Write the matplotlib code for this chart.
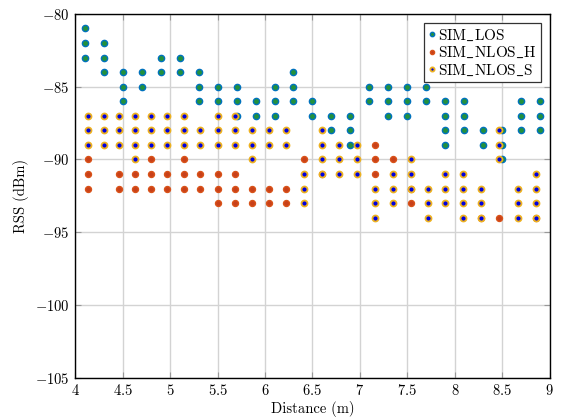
import matplotlib
matplotlib.use("Agg")
import matplotlib.pyplot as plt
from matplotlib.ticker import FuncFormatter, MultipleLocator

plt.rcParams['font.family'] = 'serif'
plt.rcParams['font.serif'] = ['cmr10', 'DejaVu Serif']
plt.rcParams['mathtext.fontset'] = 'cm'
plt.rcParams['axes.unicode_minus'] = False

# LOS measurements: distance -> list of RSS values
los_x = [4.1, 4.3, 4.5, 4.7, 4.9, 5.1, 5.3, 5.5, 5.7, 5.9, 6.1, 6.3, 6.5,
         6.7, 6.9, 7.1, 7.3, 7.5, 7.7, 7.9, 8.1, 8.3, 8.5, 8.7, 8.9]
los_rss = [[-81, -82, -83], [-82, -83, -84], [-84, -85, -86], [-84, -85],
           [-83, -84], [-83, -84], [-84, -85, -86], [-85, -86],
           [-85, -86, -87], [-86, -87], [-85, -86, -87], [-84, -85, -86],
           [-86, -87], [-87, -88], [-87, -88, -89], [-85, -86],
           [-85, -86, -87], [-85, -86, -87], [-85, -86],
           [-86, -87, -88, -89], [-86, -87, -88], [-88, -89],
           [-88, -89, -90], [-86, -87, -88], [-86, -87, -88]]

# NLOS distances (shared by both NLOS series)
nlos_x = [4.13, 4.30, 4.46, 4.63, 4.80, 4.97, 5.15, 5.32, 5.50, 5.68, 5.86,
          6.04, 6.22, 6.41, 6.60, 6.78, 6.97, 7.16, 7.35, 7.54, 7.72, 7.90,
          8.09, 8.28, 8.47, 8.66, 8.85]
nlos_h_rss = [[-90, -91, -92], [], [-91, -92], [-91, -92], [-90, -91, -92],
              [-91, -92], [-90, -91, -92], [-91, -92], [-91, -92, -93],
              [-91, -92, -93], [-92, -93], [-92, -93], [-92, -93], [-90],
              [-91], [], [], [-89, -90, -91], [-90], [-92, -93], [], [],
              [], [-94], [-94], [], [-94]]
nlos_s_rss = [[-87, -88, -89], [-87, -88, -89], [-87, -88, -89],
              [-87, -88, -89, -90], [-87, -88, -89], [-87, -88, -89],
              [-87, -88, -89], [-88, -89], [-87, -88, -89], [-87, -88, -89],
              [-88, -89, -90], [-88, -89], [-88, -89], [-91, -92, -93],
              [-88, -89, -90, -91], [-89, -90, -91], [-89, -90, -91],
              [-92, -93, -94], [-91, -92, -93], [-90, -91, -92],
              [-92, -93, -94], [-91, -92, -93], [-91, -92, -93, -94],
              [-92, -93, -94], [-88, -89, -90], [-92, -93, -94],
              [-91, -92, -93, -94]]


def flatten(xs, groups):
    px, py = [], []
    for x, vals in zip(xs, groups):
        for v in vals:
            px.append(x)
            py.append(v)
    return px, py


fig = plt.figure(figsize=(5.61, 4.19), dpi=100)
ax = fig.add_axes([0.134, 0.098, 0.846, 0.869])

x, y = flatten(los_x, los_rss)
ax.plot(x, y, 'o', ls='none', ms=4.5, mew=1.0, mec='#0072bd', mfc='#23913c',
        label=r'$\mathrm{SIM\_LOS}$', zorder=3)
x, y = flatten(nlos_x, nlos_h_rss)
ax.plot(x, y, 'o', ls='none', ms=4.3, mew=1.0, mec='#d95319', mfc='#c8401a',
        label=r'$\mathrm{SIM\_NLOS\_H}$', zorder=4)
x, y = flatten(nlos_x, nlos_s_rss)
ax.plot(x, y, 'o', ls='none', ms=4.3, mew=1.3, mec='#edb120', mfc='#0000e0',
        label=r'$\mathrm{SIM\_NLOS\_S}$', zorder=5)

ax.set_xlim(4, 9)
ax.set_ylim(-105, -80)
ax.xaxis.set_major_locator(MultipleLocator(0.5))
ax.yaxis.set_major_locator(MultipleLocator(5))
fmt = FuncFormatter(lambda v, p: r'$%g$' % v)
ax.xaxis.set_major_formatter(fmt)
ax.yaxis.set_major_formatter(fmt)
ax.tick_params(direction='in', top=True, right=True, length=4,
               color='#999999', labelsize=10.5, pad=4)
ax.grid(True, color='#d3d3d3', lw=1.0, zorder=0)
ax.set_axisbelow(True)
for s in ax.spines.values():
    s.set_linewidth(1.0)
    s.set_color('black')

ax.set_xlabel('Distance (m)', fontsize=10.5, labelpad=2)
ax.set_ylabel('RSS (dBm)', fontsize=10.5, labelpad=4)

leg = ax.legend(loc='upper right', fontsize=11, handlelength=0.4,
                handletextpad=0.2, borderpad=0.3, labelspacing=0.15,
                markerscale=0.7, fancybox=False, framealpha=1,
                edgecolor='#333333', borderaxespad=0.6)
leg.get_frame().set_linewidth(0.9)

fig.savefig('out.png', dpi=100)
